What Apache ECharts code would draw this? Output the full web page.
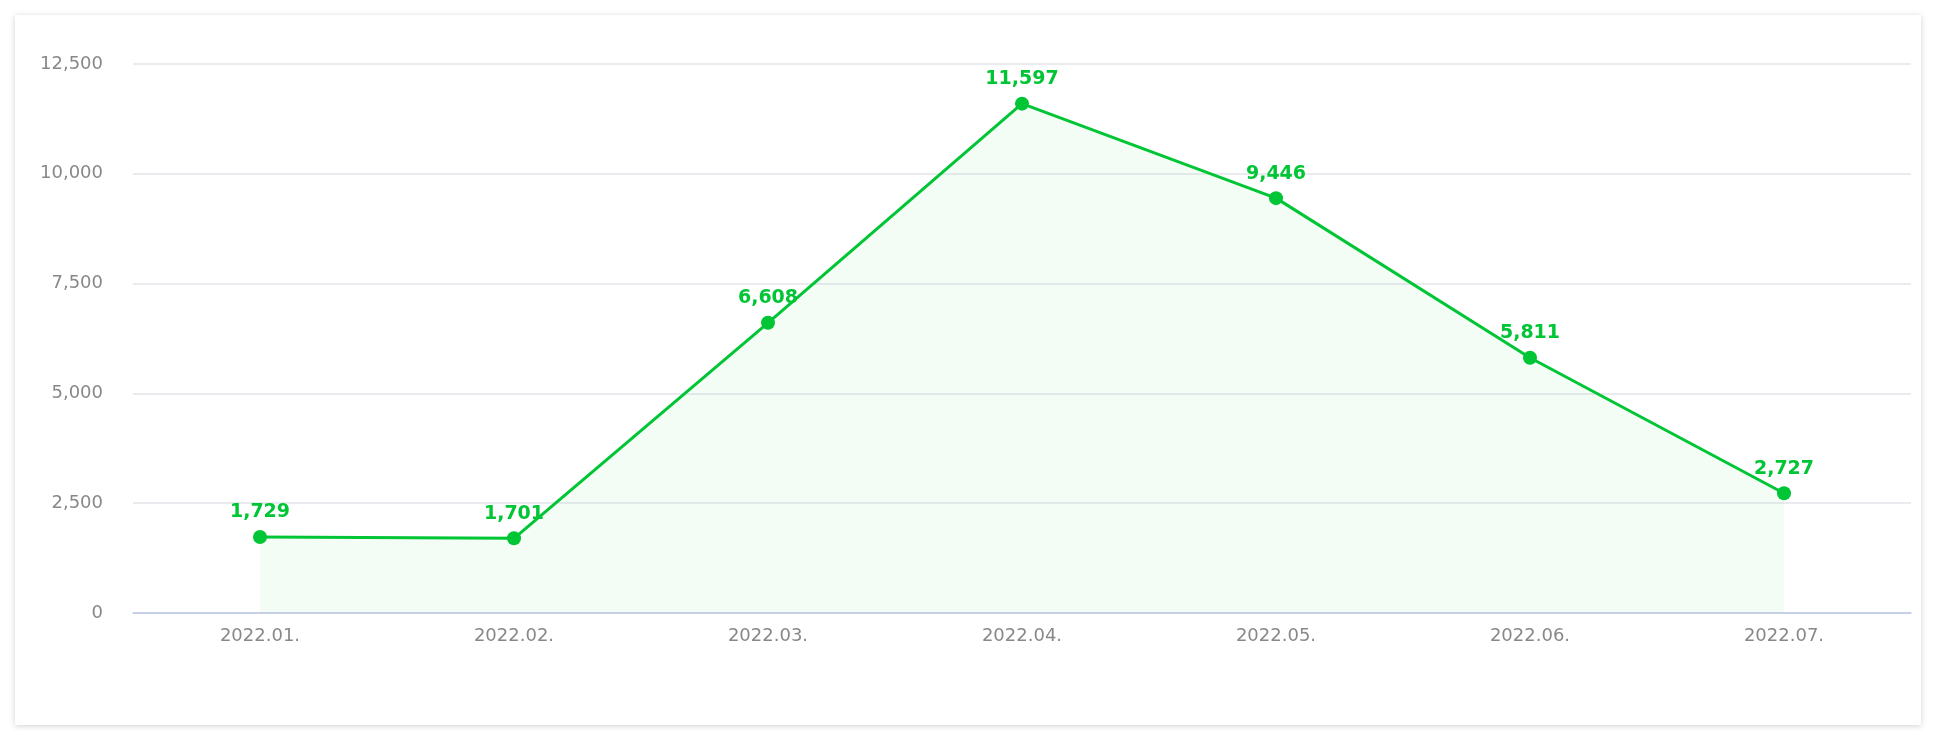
<!DOCTYPE html>
<html>
<head>
<meta charset="utf-8">
<script src="https://cdn.jsdelivr.net/npm/echarts@6/dist/echarts.min.js"></script>
<style>
  html, body { margin: 0; padding: 0; background: #fff; width: 1936px; height: 740px; overflow: hidden; }
  #card { position: absolute; left: 15px; top: 15px; width: 1906px; height: 710px; background: #fff;
    box-shadow: 0 1px 6px rgba(0,0,0,0.18); }
  #main { width: 1906px; height: 710px; }
</style>
</head>
<body>
<div id="card"><div id="main"></div></div>
<script>
var months = ['2022.01.', '2022.02.', '2022.03.', '2022.04.', '2022.05.', '2022.06.', '2022.07.'];
var counts = [1729, 1701, 6608, 11597, 9446, 5811, 2727];

var chart = echarts.init(document.getElementById('main'));
var option = {
  animation: false,
  grid: { left: 118, right: 10, top: 49, bottom: 112 },
  xAxis: {
    type: 'category',
    data: months,
    boundaryGap: true,
    axisLine: { lineStyle: { color: '#bcc8e6', width: 1.5 } },
    axisTick: { length: 18, lineStyle: { color: '#bcc8e6', width: 1.5 } },
    axisLabel: { color: '#888', fontSize: 18, margin: 14, fontFamily: 'DejaVu Sans' }
  },
  yAxis: {
    type: 'value',
    min: 0,
    max: 12500,
    interval: 2500,
    axisLine: { show: false },
    axisTick: { show: false },
    splitLine: { lineStyle: { color: '#e3e5ea', width: 1.5 } },
    axisLabel: { color: '#888', fontSize: 18, margin: 30, fontFamily: 'DejaVu Sans',
      formatter: function (v) { return v.toLocaleString('en-US'); } }
  },
  series: [{
    type: 'line',
    data: counts,
    symbol: 'circle',
    symbolSize: 14,
    itemStyle: { color: '#00c535' },
    lineStyle: { color: '#00c535', width: 3 },
    areaStyle: { color: 'rgba(0,197,53,0.06)' },
    label: {
      show: true,
      position: 'top',
      distance: 8,
      color: '#00c535',
      fontSize: 19,
      fontWeight: 'bold',
      fontFamily: 'DejaVu Sans',
      formatter: function (p) { return p.value.toLocaleString('en-US'); }
    }
  }]
};
chart.setOption(option);
</script>
</body>
</html>
